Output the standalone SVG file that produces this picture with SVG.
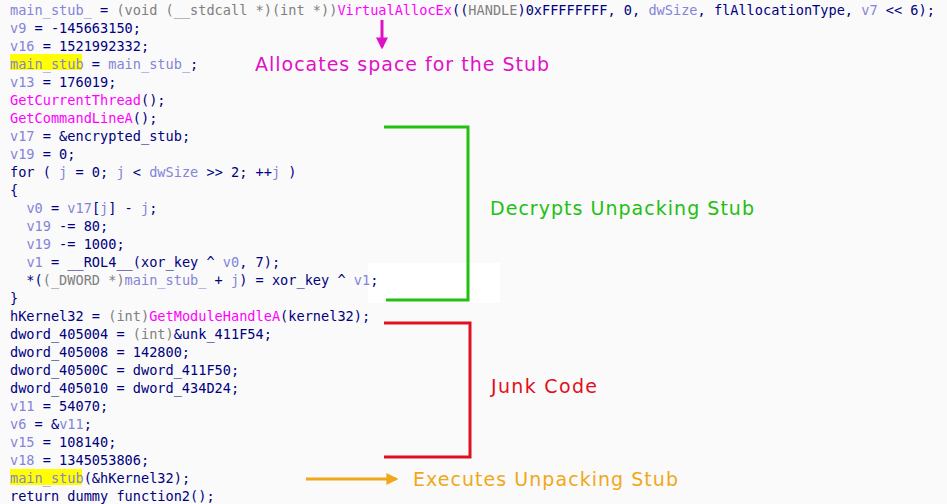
<svg xmlns="http://www.w3.org/2000/svg" width="947" height="504" viewBox="0 0 947 504">
<style>
.c{font-family:"DejaVu Sans Mono","Liberation Mono",monospace;font-size:13.6px;fill:#000080;white-space:pre}
.v{fill:#8484d8}.g{fill:#808080}.f{fill:#ff00ff}
.a{font-family:"DejaVu Sans","Verdana",sans-serif;font-size:19px}
</style>
<defs>
<marker id="mm" viewBox="0 0 10 10" refX="8" refY="5" markerWidth="4" markerHeight="4" orient="auto"><path d="M0,0L10,5L0,10z" fill="#e010c8"/></marker>
<marker id="mo" viewBox="0 0 10 10" refX="8" refY="5" markerWidth="4" markerHeight="4" orient="auto"><path d="M0,0L10,5L0,10z" fill="#f0a818"/></marker>
</defs>
<rect width="947" height="504" fill="#fafafa"/>
<rect x="368" y="263" width="132" height="40" fill="#ffffff"/>
<rect x="10" y="54" width="72" height="16" fill="#ffff00"/>
<rect x="10" y="469" width="72" height="16" fill="#ffff00"/>
<g id="code">
<text class="c" x="10" y="14.5"><tspan class="v">main_stub_</tspan> = <tspan class="g">(void (__stdcall *)(int *))</tspan><tspan class="f">VirtualAllocEx</tspan>((<tspan class="g">HANDLE</tspan>)0xFFFFFFFF, 0, <tspan class="v">dwSize</tspan>, flAllocationType, <tspan class="v">v7</tspan> &lt;&lt; 6);</text>
<text class="c" x="10" y="32.5"><tspan class="v">v9</tspan> = -145663150;</text>
<text class="c" x="10" y="50.5"><tspan class="v">v16</tspan> = 1521992332;</text>
<text class="c" x="10" y="68.5"><tspan class="v">main_stub</tspan> = <tspan class="v">main_stub_</tspan>;</text>
<text class="c" x="10" y="86.5"><tspan class="v">v13</tspan> = 176019;</text>
<text class="c" x="10" y="104.5"><tspan class="f">GetCurrentThread</tspan>();</text>
<text class="c" x="10" y="122.5"><tspan class="f">GetCommandLineA</tspan>();</text>
<text class="c" x="10" y="140.5"><tspan class="v">v17</tspan> = &amp;encrypted_stub;</text>
<text class="c" x="10" y="158.5"><tspan class="v">v19</tspan> = 0;</text>
<text class="c" x="10" y="176.5">for ( <tspan class="v">j</tspan> = 0; <tspan class="v">j</tspan> &lt; <tspan class="v">dwSize</tspan> &gt;&gt; 2; ++<tspan class="v">j</tspan> )</text>
<text class="c" x="10" y="194.5">{</text>
<text class="c" x="10" y="212.5">  <tspan class="v">v0</tspan> = <tspan class="v">v17</tspan>[<tspan class="v">j</tspan>] - <tspan class="v">j</tspan>;</text>
<text class="c" x="10" y="230.5">  <tspan class="v">v19</tspan> -= 80;</text>
<text class="c" x="10" y="248.5">  <tspan class="v">v19</tspan> -= 1000;</text>
<text class="c" x="10" y="266.5">  <tspan class="v">v1</tspan> = __ROL4__(xor_key ^ <tspan class="v">v0</tspan>, 7);</text>
<text class="c" x="10" y="284.5">  *(<tspan class="g">(_DWORD *)</tspan><tspan class="v">main_stub_</tspan> + <tspan class="v">j</tspan>) = xor_key ^ <tspan class="v">v1</tspan>;</text>
<text class="c" x="10" y="302.5">}</text>
<text class="c" x="10" y="320.5">hKernel32 = <tspan class="g">(int)</tspan><tspan class="f">GetModuleHandleA</tspan>(kernel32);</text>
<text class="c" x="10" y="338.5">dword_405004 = <tspan class="g">(int)</tspan>&amp;unk_411F54;</text>
<text class="c" x="10" y="356.5">dword_405008 = 142800;</text>
<text class="c" x="10" y="374.5">dword_40500C = dword_411F50;</text>
<text class="c" x="10" y="392.5">dword_405010 = dword_434D24;</text>
<text class="c" x="10" y="410.5"><tspan class="v">v11</tspan> = 54070;</text>
<text class="c" x="10" y="428.5"><tspan class="v">v6</tspan> = &amp;<tspan class="v">v11</tspan>;</text>
<text class="c" x="10" y="446.5"><tspan class="v">v15</tspan> = 108140;</text>
<text class="c" x="10" y="464.5"><tspan class="v">v18</tspan> = 1345053806;</text>
<text class="c" x="10" y="482.5"><tspan class="v">main_stub</tspan>(&amp;hKernel32);</text>
<text class="c" x="10" y="500.5">return dummy_function2();</text>
</g>
<g id="connectors" fill="none" stroke-width="3">
<line x1="382" y1="20" x2="382" y2="47" stroke="#e010c8" marker-end="url(#mm)"/>
<polyline points="384,127 468,127 468,300 386,300" stroke="#22c010"/>
<polyline points="384,323 470,323 470,457 384,457" stroke="#e01020"/>
<line x1="306" y1="479" x2="396" y2="479" stroke="#f0a818" marker-end="url(#mo)"/>
</g>
<g id="labels">
<text class="a" x="255" y="71" fill="#e010c8" textLength="294">Allocates space for the Stub</text>
<text class="a" x="490" y="215" fill="#22c010" textLength="264">Decrypts Unpacking Stub</text>
<text class="a" x="491" y="393" fill="#e01020" textLength="106">Junk Code</text>
<text class="a" x="413" y="486" fill="#f0a818" textLength="265">Executes Unpacking Stub</text>
</g>
</svg>
